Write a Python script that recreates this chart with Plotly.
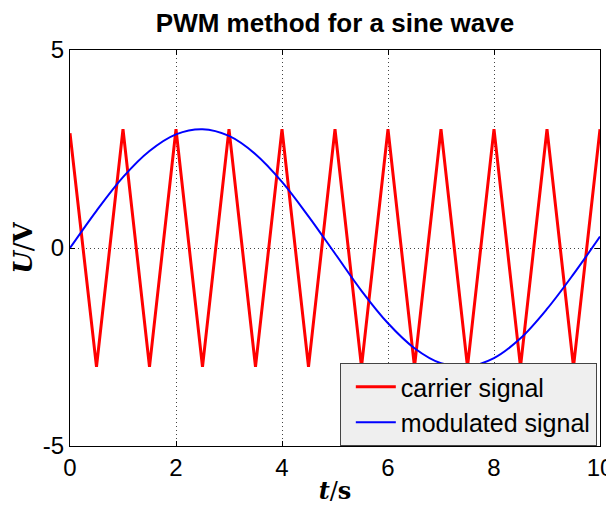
import plotly.graph_objects as go

# carrier (triangle) vertices
carrier_t = [0, 0.5, 1, 1.5, 2, 2.5, 3, 3.5, 4, 4.5, 5, 5.5, 6, 6.5, 7, 7.5, 8, 8.5, 9, 9.5, 10]
carrier_u = [2.9, -3, 3, -3, 3, -3, 3, -3, 3, -3, 3, -3, 3, -3, 3, -3, 3, -3, 3, -3, 3]

# modulated (sine) signal
mod_t = [0, 0.5, 1, 1.5, 2, 2.5, 3, 3.5, 4, 4.5, 5, 5.5, 6, 6.5, 7, 7.5, 8, 8.5, 9, 9.5, 10]
mod_u = [0, 0.94, 1.79, 2.45, 2.87, 3.00, 2.83, 2.37, 1.67, 0.80, -0.14, -1.08, -1.90,
         -2.53, -2.91, -2.99, -2.78, -2.28, -1.54, -0.66, 0.29]

xticks = [0, 2, 4, 6, 8, 10]
yticks = [-5, 0, 5]

fig = go.Figure()
fig.add_trace(go.Scatter(x=carrier_t, y=carrier_u, mode="lines", name="carrier signal",
                         line=dict(color="#ff0000", width=3)))
fig.add_trace(go.Scatter(x=mod_t, y=mod_u, mode="lines", name="modulated signal",
                         line=dict(color="#0000ff", width=2, shape="spline")))

axis_common = dict(showline=True, linecolor="black", linewidth=1, mirror="ticks",
                   ticks="inside", ticklen=5, tickcolor="black",
                   showgrid=True, gridcolor="#444444", griddash="1px,3px", gridwidth=1,
                   zeroline=False, automargin=False,
                   tickfont=dict(family="Liberation Sans, Arial", size=24, color="black"))

fig.update_layout(
    width=606, height=502,
    margin=dict(l=62, r=14, t=42, b=64),
    paper_bgcolor="white", plot_bgcolor="white",
    title=dict(text="<b>PWM method for a sine wave</b>", xref="paper", x=0.5, xanchor="center",
               y=0.971, yanchor="middle",
               font=dict(family="Liberation Sans, Arial", size=26, color="black")),
    xaxis=dict(range=[0, 10], tickvals=xticks, ticktext=[str(v) for v in xticks],
               title=dict(text="<b><i>t</i></b>/<b>s</b>", standoff=2,
                          font=dict(family="DejaVu Serif, Liberation Serif", size=24, color="black")),
               **axis_common),
    yaxis=dict(range=[-5, 5], tickvals=yticks, ticktext=[str(v) for v in yticks],
               title=dict(text="<b><i>U</i></b>/<b>V</b>", standoff=3,
                          font=dict(family="DejaVu Serif, Liberation Serif", size=26, color="black")),
               **axis_common),
    legend=dict(x=0.994, y=0.0, xanchor="right", yanchor="bottom",
                bgcolor="#efefef", bordercolor="#444444", borderwidth=1,
                font=dict(family="Liberation Sans, Arial", size=25, color="black"),
                itemwidth=40, tracegroupgap=0, indentation=10),
    showlegend=True,
)

fig.write_html("out.html")
